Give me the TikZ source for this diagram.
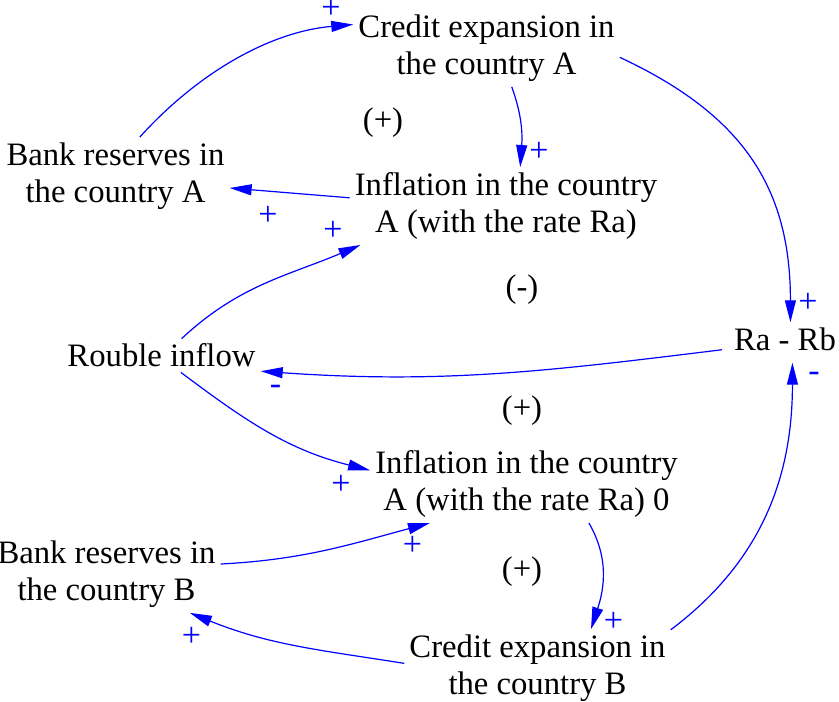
\documentclass[tikz,border=0pt]{standalone}
\usepackage{fontspec}
\setmainfont{Liberation Serif}
\usetikzlibrary{arrows.meta}
\definecolor{Link}{HTML}{0000FF}

\begin{document}
\begin{tikzpicture}[x=1pt,y=1pt,
  var/.style={align=center,inner sep=5pt,font=\fontsize{32.7}{37.6}\selectfont},
  link/.style={Link,line width=1.2pt,-{Triangle[length=22pt,width=11pt]}},
  sgn/.style={Link,inner sep=0pt,font=\fontsize{34}{36}\selectfont},
  looplab/.style={inner sep=0pt,font=\fontsize{32.7}{37.6}\selectfont}]
  \useasboundingbox (0,0) rectangle (839,-702);
  % variables
  \node[var] (cea) at (486.5,-48) {Credit expansion in\\the country A};
  \node[var] (bra) at (115.5,-176) {Bank reserves in\\the country A};
  \node[var] (ia) at (506,-206) {Inflation in the country\\A (with the rate Ra)};
  \node[var] (ri) at (161.5,-355.5) {Rouble inflow};
  \node[var] (rab) at (785,-339) {Ra - Rb};
  \node[var] (iab) at (526.5,-484) {Inflation in the country\\A (with the rate Ra) 0};
  \node[var] (brb) at (106.5,-574) {Bank reserves in\\the country B};
  \node[var] (ceb) at (537.5,-668) {Credit expansion in\\the country B};
  % loop polarities
  \node[looplab] (l1) at (383,-123) {(+)};
  \node[looplab] (l2) at (522,-290) {(-)};
  \node[looplab] (l3) at (522,-411) {(+)};
  \node[looplab] (l4) at (522,-572) {(+)};
  % links
  \draw[link] (bra.58) to[out=48,in=185,looseness=0.9] (cea.170);
  \draw[link] (cea.-57) to[out=-70,in=86] (ia.70);
  \draw[link] (cea.-4) to[out=-25,in=90,looseness=1.1] (rab.72);
  \draw[link] (ia.177) -- (bra.-6);
  \draw[link] (ri.40) to[out=43,in=203] (ia.195);
  \draw[link,shorten <=7pt] (rab.190) to[out=187,in=-4] (ri.-9);
  \draw[link] (ri.-41) to[out=-37,in=166] (iab.175);
  \draw[link] (brb.5) to[out=3,in=195] (iab.202);
  \draw[link] (iab.-32) to[out=-60,in=72] (ceb.36);
  \draw[link] (ceb.178) to[out=171,in=-22] (brb.-25);
  \draw[link,shorten >=7pt] (ceb.16) to[out=37,in=-90] (rab.-66);
  % link signs
  \node[sgn] (s1) at (331,-9) {+};
  \node[sgn] (s2) at (539,-152) {+};
  \node[sgn] (s3) at (808,-303) {+};
  \node[sgn] (s4) at (268,-216) {+};
  \node[sgn] (s5) at (333,-231) {+};
  \node[sgn] (s6) at (275.5,-390) {-};
  \node[sgn] (s7) at (341,-485) {+};
  \node[sgn] (s8) at (412.5,-546) {+};
  \node[sgn] (s9) at (613.5,-622) {+};
  \node[sgn] (s10) at (191.5,-637) {+};
  \node[sgn] (s11) at (814,-377) {-};
\end{tikzpicture}
\end{document}
